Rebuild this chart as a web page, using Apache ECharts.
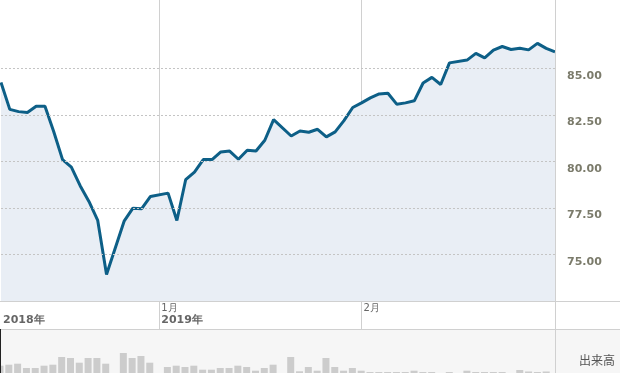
<!DOCTYPE html>
<html>
<head>
<meta charset="utf-8">
<script src="https://cdn.jsdelivr.net/npm/echarts@6/dist/echarts.min.js"></script>
<style>
html,body{margin:0;padding:0;background:#fff;}
#chart{width:620px;height:373px;}
</style>
</head>
<body>
<div id="chart"></div>
<script>
// Weekday slots (US market); holidays carry null values
var dates = [
  '2018-12-06','2018-12-07','2018-12-10','2018-12-11','2018-12-12','2018-12-13','2018-12-14',
  '2018-12-17','2018-12-18','2018-12-19','2018-12-20','2018-12-21',
  '2018-12-24','2018-12-25','2018-12-26','2018-12-27','2018-12-28',
  '2018-12-31','2019-01-01','2019-01-02','2019-01-03','2019-01-04',
  '2019-01-07','2019-01-08','2019-01-09','2019-01-10','2019-01-11',
  '2019-01-14','2019-01-15','2019-01-16','2019-01-17','2019-01-18',
  '2019-01-21','2019-01-22','2019-01-23','2019-01-24','2019-01-25',
  '2019-01-28','2019-01-29','2019-01-30','2019-01-31','2019-02-01',
  '2019-02-04','2019-02-05','2019-02-06','2019-02-07','2019-02-08',
  '2019-02-11','2019-02-12','2019-02-13','2019-02-14','2019-02-15',
  '2019-02-18','2019-02-19','2019-02-20','2019-02-21','2019-02-22',
  '2019-02-25','2019-02-26','2019-02-27','2019-02-28','2019-03-01',
  '2019-03-04','2019-03-05'
];
var prices = [
  84.25, 82.80, 82.68, 82.63, 82.97, 82.97, 81.60,
  80.10, 79.70, 78.70, 77.85, 76.83,
  73.92, null, 76.79, 77.49, 77.46,
  78.12, null, 78.30, 76.83, 79.02,
  79.43, 80.10, 80.10, 80.51, 80.56,
  80.12, 80.60, 80.56, 81.14, 82.25,
  null, 81.37, 81.64, 81.57, 81.73,
  81.32, 81.59, 82.20, 82.90, 83.15,
  83.42, 83.63, 83.67, 83.08, 83.15,
  83.26, 84.22, 84.52, 84.14, 85.30,
  null, 85.45, 85.81, 85.57, 85.99,
  86.18, 86.02, 86.09, 86.00, 86.35,
  86.08, 85.89
];
var volumes = [
  7.3, 8.3, 9.3, 5, 5, 7.3, 8.3,
  16, 15, 10.3, 15, 15,
  9.3, null, 20, 15, 17,
  10.3, null, 6, 7.3, 6,
  7.3, 3.3, 3.3, 5, 5,
  7.3, 6, 2.3, 5, 8.3,
  null, 16, 1.7, 6, 2.3,
  15, 6, 2.3, 5, 2.3,
  1, 1, 1, 1, 1,
  2.3, 1, 1, 0, 1,
  null, 2.3, 1, 1, 1,
  1, 0, 3, 1.5, 1,
  1.5, 0
];
var priceTicks = [75, 77.5, 80, 82.5, 85];
var yearLabels = {'2018-12-06': '2018年', '2019-01-01': '2019年'};
var monthLabels = {'2019-01-01': '1月', '2019-02-01': '2月'};

function isMonthStart(idx) { return !!monthLabels[dates[idx]]; }
function isLabelSlot(idx) { return !!monthLabels[dates[idx]] || !!yearLabels[dates[idx]]; }

var chart = echarts.init(document.getElementById('chart'), null, {renderer: 'canvas'});
var W = 620, H = 373, plotRight = 65, priceBottom = 301, volTop = 329;

chart.setOption({
  animation: false,
  backgroundColor: '#ffffff',
  graphic: [
    {type: 'rect', z: -10, shape: {x: 0, y: volTop, width: W, height: H - volTop}, style: {fill: '#f6f6f6'}},
    {type: 'line', z: 10, shape: {x1: 0, y1: priceBottom + 0.5, x2: W, y2: priceBottom + 0.5}, style: {stroke: '#d0d0d0', lineWidth: 1}},
    {type: 'line', z: 10, shape: {x1: 0, y1: volTop + 0.5, x2: W, y2: volTop + 0.5}, style: {stroke: '#d0d0d0', lineWidth: 1}},
    {type: 'line', z: 10, shape: {x1: W - plotRight + 0.5, y1: 0, x2: W - plotRight + 0.5, y2: H}, style: {stroke: '#d0d0d0', lineWidth: 1}},
    {type: 'line', z: 10, shape: {x1: 0.5, y1: volTop, x2: 0.5, y2: H}, style: {stroke: '#222', lineWidth: 1}},
    {type: 'text', z: 10, x: 579, y: 354, style: {text: '出来高', fill: '#555', font: '12px "Noto Sans CJK JP"'}}
  ],
  grid: [
    {left: 0, right: plotRight, top: 0, height: priceBottom},
    {left: 0, right: plotRight, top: volTop, bottom: 0}
  ],
  xAxis: [
    {
      type: 'category', gridIndex: 0, data: dates, boundaryGap: false,
      axisLine: {show: false},
      axisTick: {show: true, interval: function (i) { return isMonthStart(i); }, length: volTop - priceBottom, lineStyle: {color: '#d0d0d0'}},
      splitLine: {show: true, interval: function (i) { return isMonthStart(i); }, lineStyle: {color: '#d0d0d0', width: 1}},
      axisLabel: {
        show: true, interval: function (i) { return isLabelSlot(i); },
        align: 'left', margin: 1, padding: [0, 0, 0, 2],
        formatter: function (v) {
          var m = monthLabels[v] || ' ';
          var y = yearLabels[v] || '';
          return '{m|' + m + '}\n{y|' + y + '}';
        },
        rich: {
          m: {fontSize: 10, fontFamily: 'DejaVu Sans', color: '#666', lineHeight: 12},
          y: {fontSize: 11, fontWeight: 'bold', fontFamily: 'DejaVu Sans', color: '#666', lineHeight: 12}
        }
      }
    },
    {
      type: 'category', gridIndex: 1, data: dates, boundaryGap: false,
      axisLine: {show: false}, axisTick: {show: false}, axisLabel: {show: false}, splitLine: {show: false}
    }
  ],
  yAxis: [
    {
      type: 'value', gridIndex: 0, position: 'right', min: 72.5, max: 88.68, interval: 2.5,
      axisLine: {show: false}, axisTick: {show: false}, splitLine: {show: false},
      axisLabel: {
        margin: 12, verticalAlign: 'top', padding: [2, 0, 0, 0],
        color: '#7b7b6b', fontSize: 11, fontWeight: 'bold', fontFamily: 'DejaVu Sans',
        formatter: function (v) {
          for (var k = 0; k < priceTicks.length; k++) { if (Math.abs(priceTicks[k] - v) < 1e-6) return v.toFixed(2); }
          return '';
        }
      }
    },
    {
      type: 'value', gridIndex: 1, min: 0, max: 44,
      axisLine: {show: false}, axisTick: {show: false}, axisLabel: {show: false}, splitLine: {show: false}
    }
  ],
  series: [
    {
      type: 'line', xAxisIndex: 0, yAxisIndex: 0, data: prices, connectNulls: true,
      symbol: 'none', smooth: false,
      lineStyle: {color: '#0d5f87', width: 3},
      areaStyle: {color: '#e9eef5', opacity: 1, origin: 'start'},
      markLine: {
        silent: true, symbol: 'none', label: {show: false},
        lineStyle: {color: '#c4c4c4', type: [2, 2], width: 1},
        data: priceTicks.map(function (t) { return {yAxis: t}; }),
        animation: false
      },
      z: 3
    },
    {
      type: 'bar', xAxisIndex: 1, yAxisIndex: 1, data: volumes,
      barWidth: 7, itemStyle: {color: '#cccccc'}
    }
  ]
});
</script>
</body>
</html>
